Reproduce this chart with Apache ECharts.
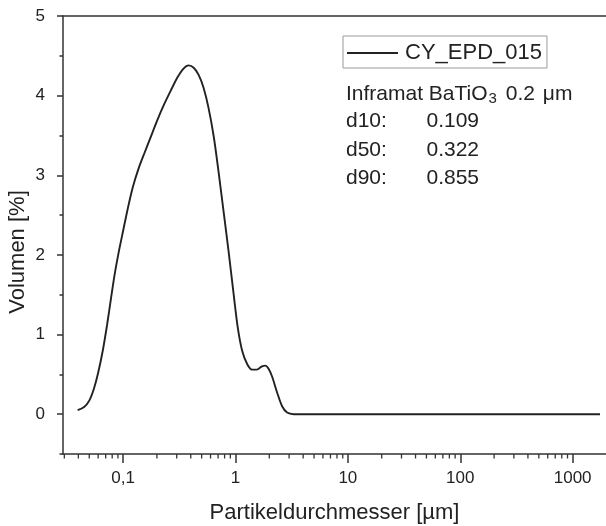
<!DOCTYPE html>
<html><head><meta charset="utf-8">
<script src="https://cdn.jsdelivr.net/npm/echarts@6/dist/echarts.min.js"></script>
<style>html,body{margin:0;padding:0;background:#fff}#c{width:606px;height:526px}</style>
</head><body><div id="c"></div>
<script>
// Particle size [µm]
const sizes = [0.0394, 0.045, 0.050, 0.055, 0.060, 0.066, 0.072, 0.078, 0.084, 0.091, 0.100, 0.110, 0.122, 0.137, 0.155, 0.175, 0.200, 0.230, 0.265, 0.305, 0.345, 0.383, 0.425, 0.470, 0.520, 0.575, 0.640, 0.709, 0.786, 0.871, 0.964, 1.05, 1.145, 1.27, 1.40, 1.55, 1.72, 1.85, 1.97, 2.12, 2.35, 2.60, 2.88, 3.30, 5, 10, 20, 50, 100, 200, 500, 1000, 1750];
// Volume [%]
const volumes = [0.05, 0.09, 0.17, 0.32, 0.52, 0.80, 1.12, 1.45, 1.75, 2.02, 2.30, 2.58, 2.85, 3.08, 3.28, 3.47, 3.68, 3.88, 4.06, 4.23, 4.34, 4.38, 4.35, 4.26, 4.10, 3.85, 3.49, 3.03, 2.53, 2.03, 1.50, 1.08, 0.80, 0.63, 0.56, 0.56, 0.60, 0.61, 0.57, 0.47, 0.27, 0.10, 0.02, 0, 0, 0, 0, 0, 0, 0, 0, 0, 0];
const seriesName = 'CY_EPD_015';
const infoMain = 'Inframat BaTiO';
const infoSub = '3';
const infoNum = ' 0.2 ';
const infoUnit = 'μm';
const statLabels = ['d10:', 'd50:', 'd90:'];
const statValues = ['0.109', '0.322', '0.855'];
const xTitle = 'Partikeldurchmesser [µm]';
const yTitle = 'Volumen [%]';
const xMin = 0.0292, xMax = 1980, yMin = -0.5, yMax = 5;

const minorX = [];
for (let e = -2; e <= 3; e++) {
  for (let m = 2; m <= 9; m++) {
    const v = m * Math.pow(10, e);
    if (v > xMin && v < xMax) minorX.push([v, yMin]);
  }
}

const AX = '#333';
const TXT = '#222';
const FONT = 'Liberation Sans, Arial, sans-serif';

const chart = echarts.init(document.getElementById('c'), null, {renderer: 'canvas'});
const statGraphics = [];
statLabels.forEach((l, i) => {
  statGraphics.push({type: 'text', left: 346, top: 111 + i * 28.5,
    style: {text: l, fontSize: 21, fontFamily: FONT, fill: TXT}});
  statGraphics.push({type: 'text', left: 426.5, top: 111 + i * 28.5,
    style: {text: statValues[i], fontSize: 21, fontFamily: FONT, fill: TXT}});
});

chart.setOption({
  animation: false,
  backgroundColor: '#fff',
  grid: {left: 63, right: 0, top: 16, bottom: 72, containLabel: false, outerBoundsMode: 'none'},
  legend: {
    data: [{name: seriesName, icon: 'rect'}], left: 343, top: 36, orient: 'horizontal',
    padding: [5, 5, 3, 4], borderColor: '#999', borderWidth: 1,
    itemWidth: 51, itemHeight: 2,
    textStyle: {fontSize: 22, fontFamily: FONT, color: TXT, lineHeight: 24, padding: [0, 0, 0, 2]}
  },
  xAxis: [{
    type: 'log', logBase: 10, min: xMin, max: xMax,
    name: xTitle, nameLocation: 'middle', nameGap: 48, nameMoveOverlap: false,
    nameTextStyle: {fontSize: 22, fontFamily: FONT, color: TXT},
    axisLine: {show: true, onZero: false, lineStyle: {color: AX, width: 1.5}},
    axisTick: {show: true, inside: false, length: 9, lineStyle: {color: AX, width: 1.5}},
    axisLabel: {show: true, margin: 16, fontSize: 17, fontFamily: FONT, color: TXT,
      showMinLabel: false, showMaxLabel: false,
      formatter: v => v < 1 ? (Math.round(v * 10) / 10).toString().replace('.', ',') : String(Math.round(v))},
    splitLine: {show: false}, minorTick: {show: false}
  }, {
    type: 'log', logBase: 10, min: xMin, max: xMax, position: 'top',
    axisLine: {show: true, onZero: false, lineStyle: {color: AX, width: 1.5}},
    axisTick: {show: false}, axisLabel: {show: false}, splitLine: {show: false}
  }],
  yAxis: [{
    type: 'value', min: yMin, max: yMax, position: 'left',
    name: yTitle, nameLocation: 'middle', nameGap: 34, nameRotate: 90, nameMoveOverlap: false,
    nameTextStyle: {fontSize: 22, fontFamily: FONT, color: TXT, padding: [0, 34, 0, 0]},
    axisLine: {show: true, onZero: false, lineStyle: {color: AX, width: 1.5}},
    axisTick: {show: true, length: 6, lineStyle: {color: AX, width: 1.5}},
    axisLabel: {margin: 18, fontSize: 17, fontFamily: FONT, color: TXT, showMinLabel: false,
      formatter: v => (Math.abs(v - Math.round(v)) < 1e-9 ? String(Math.round(v)) : '')},
    splitLine: {show: false}
  }, {
    type: 'value', min: yMin, max: yMax, interval: 0.5, position: 'left',
    axisLine: {show: false}, axisTick: {show: true, length: 3.5, lineStyle: {color: AX, width: 1.5}},
    axisLabel: {show: false}, splitLine: {show: false}
  }],
  graphic: [
    {type: 'text', left: 346, top: 82,
      style: {
        text: '{a|' + infoMain + '}{s|' + infoSub + '}{a|' + infoNum + '}{m|' + infoUnit + '}',
        rich: {
          a: {fontSize: 21, fontFamily: FONT, fill: TXT, color: TXT, lineHeight: 24},
          s: {fontSize: 15, fontFamily: FONT, fill: TXT, color: TXT, lineHeight: 15, padding: [9, 3, 0, 1]},
          m: {fontSize: 21, fontFamily: FONT, fill: TXT, color: TXT, lineHeight: 24, padding: [0, 0, 0, 2]}
        }
      }
    },
    ...statGraphics
  ],
  series: [{
    name: seriesName, type: 'line', xAxisIndex: 0, yAxisIndex: 0,
    data: sizes.map((s, i) => [s, volumes[i]]),
    symbol: 'none', smooth: 0.3,
    lineStyle: {color: '#222', width: 1.9}, itemStyle: {color: '#222'}
  }, {
    name: 'minor', type: 'custom', xAxisIndex: 0, yAxisIndex: 0, silent: true, clip: false,
    data: minorX,
    renderItem: (params, api) => {
      const p = api.coord([api.value(0), api.value(1)]);
      return {type: 'line', shape: {x1: p[0], y1: p[1], x2: p[0], y2: p[1] + 4.5},
        style: {stroke: AX, lineWidth: 1.3}};
    }
  }]
});
</script></body></html>
